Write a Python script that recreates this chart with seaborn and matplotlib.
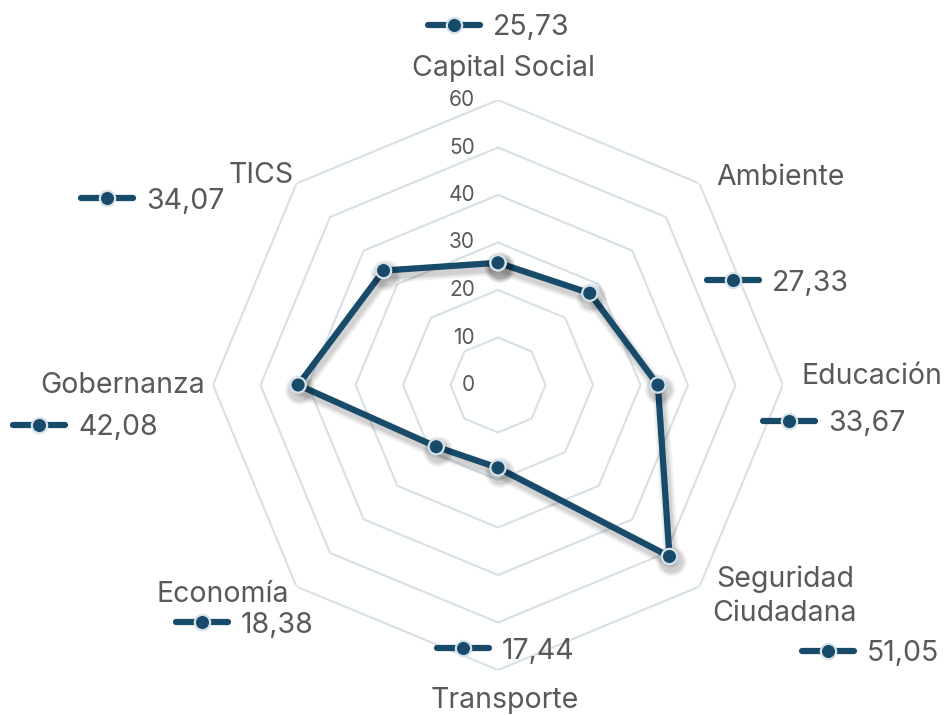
import numpy as np
import matplotlib
matplotlib.use("Agg")
import matplotlib.pyplot as plt
import matplotlib.patheffects as pe
import seaborn as sns

# Dimension scores (clockwise from the top)
categories = ["Capital Social", "Ambiente", "Educación", "Seguridad\nCiudadana",
              "Transporte", "Economía", "Gobernanza", "TICS"]
values = [25.73, 27.33, 33.67, 51.05, 17.44, 18.38, 42.08, 34.07]
value_labels = ["25,73", "27,33", "33,67", "51,05", "17,44", "18,38", "42,08", "34,07"]
ring_levels = [0, 10, 20, 30, 40, 50, 60]

# Label layout in pixels (x, y from the top-left corner of the figure)
name_pos = [(504, 76), (780, 185), (872, 384), (785, 621),
            (505, 708), (223, 602), (123, 393), (261, 183)]
key_pos = [(454, 25), (733, 280), (789, 421), (828, 651),
           (463, 648), (202, 622), (39, 425), (107, 198)]

LINE = "#184a6a"
EDGE = "#d5e2ea"
GRID = "#d6e1e7"
TEXT = "#595959"

sns.set_theme(style="white")
plt.rcParams["font.family"] = ["Inter", "DejaVu Sans"]

W, H = 948, 715
fig = plt.figure(figsize=(W / 100, H / 100), dpi=100)

cx, cy, R = 498, 385, 285
ax = fig.add_axes([(cx - R) / W, (H - cy - R) / H, 2 * R / W, 2 * R / H],
                  projection="polar")
ax.set_theta_offset(np.pi / 2)
ax.set_theta_direction(-1)
ax.set_ylim(0, ring_levels[-1])
ax.grid(False)
ax.spines["polar"].set_visible(False)
ax.set_xticks([])
ax.set_yticks([])
ax.patch.set_alpha(0)

n = len(categories)
theta = np.linspace(0, 2 * np.pi, n, endpoint=False)
theta_closed = np.append(theta, 2 * np.pi)

# Octagonal grid rings
for lvl in ring_levels[1:]:
    ax.plot(theta_closed, [lvl] * (n + 1), color=GRID, lw=1.5, zorder=1)

# Scale labels along the vertical axis
for lvl in ring_levels:
    ax.annotate(str(lvl), xy=(0, lvl), xytext=(-23, 0), textcoords="offset pixels",
                ha="right", va="center", fontsize=15, color=TEXT,
                annotation_clip=False)

# Soft drop shadow built from a few widening, faint copies of the line
shadow = [pe.SimpleLineShadow(offset=(1.5, -3.5), shadow_color="black",
                              alpha=a, linewidth=w)
          for a, w in [(0.05, 11), (0.06, 8.5), (0.08, 6)]]

vals_closed = values + values[:1]
sns.lineplot(x=theta_closed, y=vals_closed, sort=False, estimator=None, ax=ax,
             color=LINE, lw=4.5, marker="o", markersize=11,
             markerfacecolor=LINE, markeredgecolor=EDGE, markeredgewidth=1.6,
             zorder=3, clip_on=False,
             path_effects=shadow + [pe.Normal()])

# Overlay axes in pixel coordinates for category names and value keys
ov = fig.add_axes([0, 0, 1, 1])
ov.set_xlim(0, W)
ov.set_ylim(H, 0)
ov.axis("off")

for name, (nx, ny) in zip(categories, name_pos):
    ov.text(nx, ny, name, ha="center", va="baseline", fontsize=20.5, color=TEXT,
            linespacing=1.35, multialignment="center")

for lab, (kx, ky) in zip(value_labels, key_pos):
    ov.plot([kx - 26, kx + 26], [ky, ky], color=LINE, lw=4.5,
            solid_capstyle="round", zorder=4)
    ov.plot([kx], [ky], marker="o", markersize=11, color=LINE,
            markeredgecolor=EDGE, markeredgewidth=1.6, zorder=5)
    ov.text(kx + 39, ky, lab, ha="left", va="center_baseline", fontsize=20.5,
            color=TEXT)

fig.savefig("out.png", dpi=100)
